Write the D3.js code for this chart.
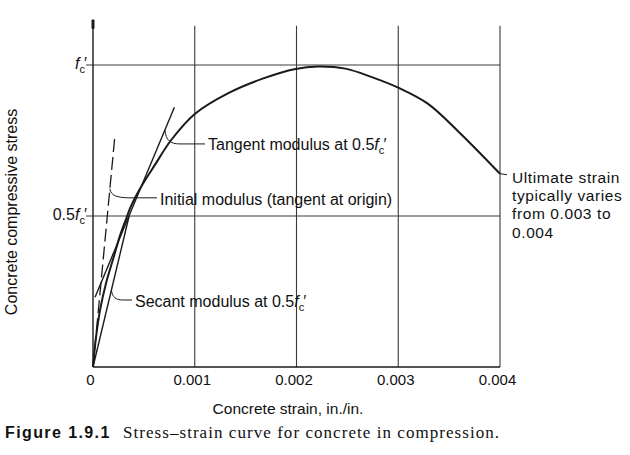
<!DOCTYPE html>
<html><head><meta charset="utf-8">
<script src="https://cdn.jsdelivr.net/npm/d3@7/dist/d3.min.js"></script>
<style>
body{margin:0;background:#fff}
svg{display:block;font-family:"Liberation Sans",Arial,sans-serif}
text{fill:#111}
</style>
</head><body>
<svg id="c" width="630" height="455"></svg>
<script>
// ---- data (strain in in./in., stress as fraction of f'c) ----
const curveStrain = [0, 0.00003, 0.00007, 0.00013, 0.0002, 0.00027, 0.000336, 0.00037, 0.00047, 0.00061, 0.000765, 0.001, 0.00133, 0.00166, 0.00199, 0.00221, 0.00248, 0.00274, 0.003, 0.00329, 0.00359, 0.0040];
const curveStress = [0, 0.10, 0.19, 0.28, 0.36, 0.44, 0.50, 0.53, 0.595, 0.67, 0.75, 0.838, 0.907, 0.954, 0.987, 0.995, 0.988, 0.960, 0.925, 0.872, 0.78, 0.64];
const initialStrain = [0, 0.000215];
const initialStress = [0, 0.765];
const tangentStrain = [0.00002, 0.00080];
const tangentStress = [0.231, 0.86];
const secantStrain = [0, 0.000355];
const secantStress = [0, 0.5];
const xTicks = [0, 0.001, 0.002, 0.003, 0.004];
const xTickLabels = ["0", "0.001", "0.002", "0.003", "0.004"];
const yTicks = [0.5, 1];
const yTickLabels = ["0.5", ""];
const yTitle = "Concrete compressive stress";
const xTitle = "Concrete strain, in./in.";
const captionBold = "Figure 1.9.1";
const captionText = "Stress\u2013strain curve for concrete in compression.";
const ultimateLines = ["Ultimate strain", "typically varies", "from 0.003 to", "0.004"];

const svg = d3.select("#c");
const x = d3.scaleLinear().domain([0, 0.004]).range([93, 500]);
const y = d3.scaleLinear().domain([0, 1]).range([367, 65]);
const yTop = 1.15;
const ink = "#1a1a1a";

// gridlines
const g = svg.append("g");
g.selectAll(".vg").data(xTicks.slice(1)).enter().append("line")
  .attr("x1", d => x(d)).attr("x2", d => x(d))
  .attr("y1", y(0)).attr("y2", y(yTop - 0.02))
  .attr("stroke", "#3a3a3a").attr("stroke-width", 1.1);
g.selectAll(".hg").data(yTicks).enter().append("line")
  .attr("x1", x(0) - 7).attr("x2", x(0.004))
  .attr("y1", d => y(d)).attr("y2", d => y(d))
  .attr("stroke", "#3a3a3a").attr("stroke-width", 1.1);

// axes lines
svg.append("line").attr("x1", x(0)).attr("x2", x(0)).attr("y1", y(0)).attr("y2", y(yTop))
  .attr("stroke", ink).attr("stroke-width", 1.4);
svg.append("line").attr("x1", x(0)).attr("x2", x(0)).attr("y1", y(yTop)).attr("y2", y(yTop) + 9)
  .attr("stroke", ink).attr("stroke-width", 3);
svg.append("line").attr("x1", x(0)).attr("x2", x(0.004)).attr("y1", y(0)).attr("y2", y(0))
  .attr("stroke", ink).attr("stroke-width", 1.4);

// x axis labels via d3 axis
const xa = svg.append("g").attr("transform", `translate(0,${y(0)})`)
  .call(d3.axisBottom(x).tickValues(xTicks).tickSize(0).tickPadding(7)
    .tickFormat((d, i) => xTickLabels[i]));
xa.select(".domain").remove();
xa.selectAll("text").attr("dx", -3)
  .style("font-size", "15px").style("fill", "#111")
  .style("font-family", "'Liberation Sans',Arial,sans-serif");

// y labels with f'c
function fc(sel, prefix) {
  if (prefix) sel.append("tspan").text(prefix);
  sel.append("tspan").attr("font-style", "italic").text("f");
  sel.append("tspan").attr("font-size", "0.7em").attr("dy", 4).text("c");
  sel.append("tspan").attr("dy", -4).attr("dx", -1).text("\u2032");
}
yTicks.forEach((t, i) => {
  const tx = svg.append("text").attr("x", x(0) - 6).attr("y", y(t) + 4)
    .attr("text-anchor", "end").attr("font-size", 16);
  fc(tx, yTickLabels[i]);
});

// axis titles
svg.append("text").attr("transform", `translate(17,${212}) rotate(-90)`)
  .attr("text-anchor", "middle").attr("font-size", 16).text(yTitle);
svg.append("text").attr("x", 288).attr("y", 414).attr("text-anchor", "middle")
  .attr("font-size", 15.5).text(xTitle);

// caption
svg.append("text").attr("x", 5).attr("y", 438).attr("font-size", 16).attr("font-weight", "bold")
  .attr("letter-spacing", 1.4)
  .attr("font-family", "'Liberation Sans',Arial,sans-serif").text(captionBold);
svg.append("text").attr("x", 123).attr("y", 438).attr("font-size", 17).attr("letter-spacing", 1.05)
  .attr("font-family", "'Liberation Serif','Times New Roman',serif").text(captionText);

// lines
const zipped = (a, b) => a.map((v, i) => [v, b[i]]);
const smooth = d3.line().x(d => x(d[0])).y(d => y(d[1])).curve(d3.curveCatmullRom.alpha(0.5));
svg.append("path").datum(zipped(curveStrain, curveStress))
  .attr("d", smooth).attr("fill", "none").attr("stroke", ink).attr("stroke-width", 2);
const straight = d3.line().x(d => x(d[0])).y(d => y(d[1]));
svg.append("path").datum(zipped(initialStrain, initialStress)).attr("d", straight)
  .attr("fill", "none").attr("stroke", ink).attr("stroke-width", 1.3).attr("stroke-dasharray", "13,5");
svg.append("path").datum(zipped(tangentStrain, tangentStress)).attr("d", straight)
  .attr("fill", "none").attr("stroke", ink).attr("stroke-width", 1.4);
svg.append("path").datum(zipped(secantStrain, secantStress)).attr("d", straight)
  .attr("fill", "none").attr("stroke", ink).attr("stroke-width", 1.4);

// annotation helpers
function onLine(xs, ys, s) {
  const e = xs[0] + (s - ys[0]) * (xs[1] - xs[0]) / (ys[1] - ys[0]);
  return [x(e), y(s)];
}
function leader(p, dx1, dy, xEnd) {
  const [px, py] = p;
  svg.append("path")
    .attr("d", `M${px},${py} C${px + 1},${py + dy * 0.75} ${px + dx1 * 0.35},${py + dy} ${px + dx1},${py + dy} L${xEnd},${py + dy}`)
    .attr("fill", "none").attr("stroke", ink).attr("stroke-width", 1);
  return py + dy;
}
const annSize = 16;
// tangent
let p = onLine(tangentStrain, tangentStress, 0.785);
let ly = leader(p, 15, 14, 205);
let t = svg.append("text").attr("x", 208).attr("y", ly + 6).attr("font-size", annSize);
fc(t, "Tangent modulus at 0.5");
// initial
p = onLine(initialStrain, initialStress, 0.59);
ly = leader(p, 20, 9, 157);
t = svg.append("text").attr("x", 160).attr("y", ly + 7).attr("font-size", annSize)
  .text("Initial modulus (tangent at origin)");
// secant
p = onLine(secantStrain, secantStress, 0.255);
ly = leader(p, 12, 10, 132);
t = svg.append("text").attr("x", 135).attr("y", ly + 7).attr("font-size", annSize);
fc(t, "Secant modulus at 0.5");
// ultimate
const endPt = [x(curveStrain[curveStrain.length - 1]), y(curveStress[curveStress.length - 1])];
svg.append("line").attr("x1", endPt[0]).attr("y1", endPt[1]).attr("x2", endPt[0] + 7).attr("y2", endPt[1] + 1)
  .attr("stroke", ink).attr("stroke-width", 1);
const ut = svg.append("text").attr("x", 512).attr("y", endPt[1] + 9).attr("font-size", 15.5)
  .attr("letter-spacing", 0.6);
ultimateLines.forEach((s, i) => ut.append("tspan").attr("x", 512).attr("dy", i ? 18.3 : 0).text(s));
</script>
</body></html>
